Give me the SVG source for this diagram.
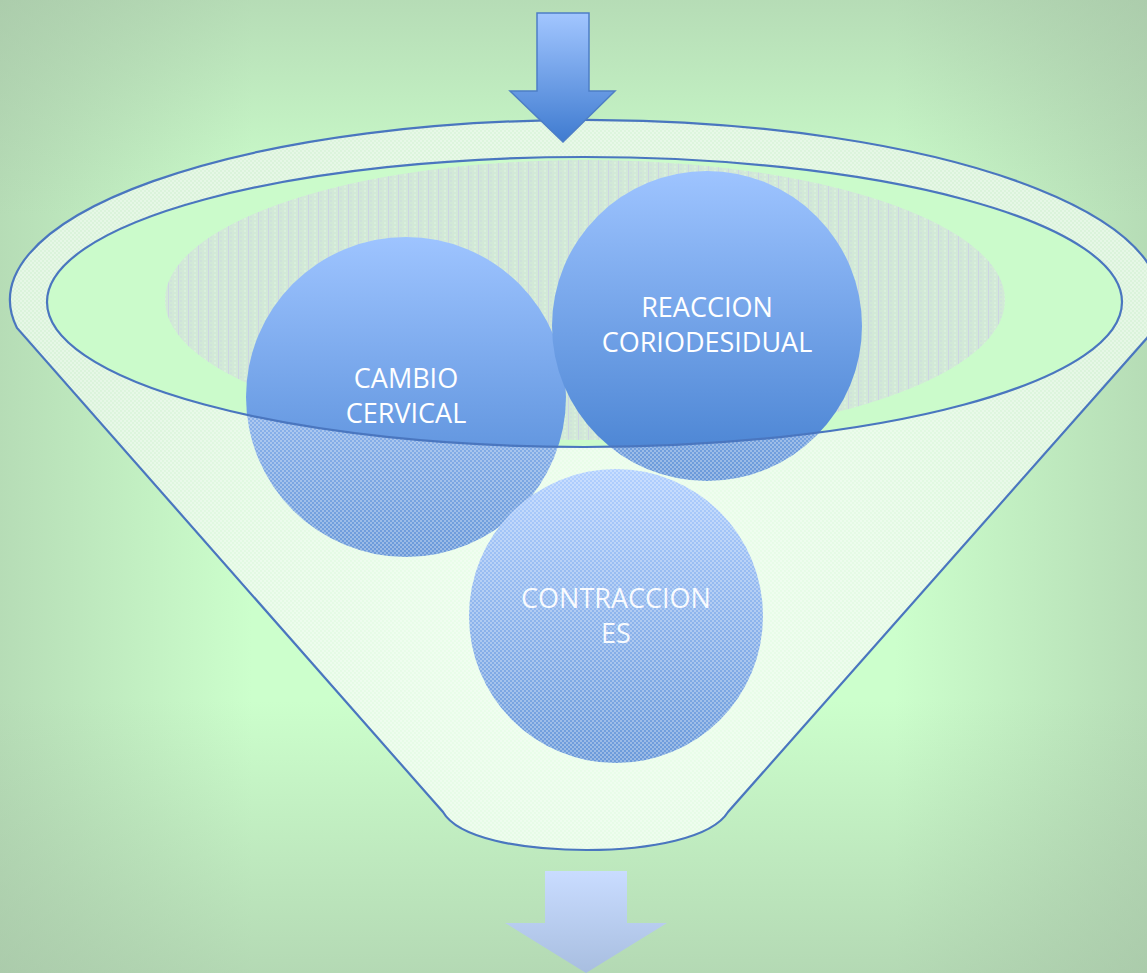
<svg xmlns="http://www.w3.org/2000/svg" width="1147" height="973" viewBox="0 0 1147 973">
  <style>
    .edge { fill: none; stroke: #4a76bf; stroke-width: 2.2; }
    .lbl { font-family: "Open Sans", "Liberation Sans", sans-serif; font-size: 27px; fill: #ffffff; text-anchor: middle; }
  </style>
  <defs>
    <linearGradient id="bgH" gradientUnits="userSpaceOnUse" x1="0" y1="0" x2="1147" y2="0">
      <stop offset="0" stop-color="#a4c0a4" stop-opacity="0.55"/>
      <stop offset="0.22" stop-color="#a4c0a4" stop-opacity="0"/>
      <stop offset="0.78" stop-color="#a4c0a4" stop-opacity="0"/>
      <stop offset="1" stop-color="#a4c0a4" stop-opacity="0.55"/>
    </linearGradient>
    <linearGradient id="bgV" gradientUnits="userSpaceOnUse" x1="0" y1="0" x2="0" y2="973">
      <stop offset="0" stop-color="#a4c0a4" stop-opacity="0.55"/>
      <stop offset="0.22" stop-color="#a4c0a4" stop-opacity="0"/>
      <stop offset="0.72" stop-color="#a4c0a4" stop-opacity="0"/>
      <stop offset="1" stop-color="#a4c0a4" stop-opacity="0.6"/>
    </linearGradient>
    <radialGradient id="funnelG" gradientUnits="userSpaceOnUse" cx="590" cy="620" r="560">
      <stop offset="0" stop-color="#eaffea"/>
      <stop offset="0.6" stop-color="#dcf8dc"/>
      <stop offset="1" stop-color="#d2f0d2"/>
    </radialGradient>
    <linearGradient id="ball" x1="0" y1="0" x2="0" y2="1">
      <stop offset="0" stop-color="#9ec4ff"/>
      <stop offset="1" stop-color="#4580d0"/>
    </linearGradient>
    <linearGradient id="arrTop" x1="0" y1="0" x2="0" y2="1">
      <stop offset="0" stop-color="#a2c6ff"/>
      <stop offset="1" stop-color="#3f7bd0"/>
    </linearGradient>
    <linearGradient id="arrBot" x1="0" y1="0" x2="0" y2="1">
      <stop offset="0" stop-color="#c9dcff"/>
      <stop offset="1" stop-color="#a8bee0"/>
    </linearGradient>
    <pattern id="chk" width="4" height="4" patternUnits="userSpaceOnUse">
      <rect width="4" height="4" fill="#ffffff" fill-opacity="0.2"/>
      <rect x="0" y="0" width="2" height="2" fill="#ffffff" fill-opacity="0.3"/>
      <rect x="2" y="2" width="2" height="2" fill="#ffffff" fill-opacity="0.3"/>
    </pattern>
    <pattern id="hatch" width="10" height="4" patternUnits="userSpaceOnUse">
      <rect width="10" height="4" fill="#d2e9d7"/>
      <rect x="0" y="0" width="2" height="2" fill="#cfe3da"/>
      <rect x="4" y="2" width="2" height="2" fill="#d9efdd"/>
      <rect x="8" y="0" width="1" height="4" fill="#cdd5e3"/>
    </pattern>
  </defs>

  <g id="background">
    <rect x="0" y="0" width="1147" height="973" fill="#ccffcc"/>
    <rect x="0" y="0" width="1147" height="973" fill="url(#bgH)"/>
    <rect x="0" y="0" width="1147" height="973" fill="url(#bgV)"/>
  </g>

  <g id="funnel">
    <path d="M17,328 A575,180 0 1 1 1147,338 L728,812 C712,838 650,850 587,850 C520,850 458,838 443,812 Z" fill="url(#funnelG)"/>
    <ellipse cx="584.5" cy="302" rx="537.5" ry="145" fill="#cbfbcb"/>
    <ellipse id="shaded" cx="585" cy="300" rx="420" ry="140" fill="url(#hatch)"/>
  </g>

  <g id="node-cambio">
    <circle cx="406" cy="397" r="160" fill="url(#ball)"/>
  </g>
  <g id="node-reaccion">
    <circle cx="707" cy="326" r="155" fill="url(#ball)"/>
  </g>
  <g id="node-contracciones">
    <circle cx="616" cy="616" r="147" fill="url(#ball)"/>
  </g>

  <g id="funnel-front">
    <path fill-rule="evenodd" fill="url(#chk)" d="M17,328 A575,180 0 1 1 1147,338 L728,812 C712,838 650,850 587,850 C520,850 458,838 443,812 Z M47,302 A537.5,145 0 1 0 1122,302 A537.5,145 0 1 0 47,302 Z"/>
    <path class="edge" d="M17,328 A575,180 0 1 1 1147,338 L728,812 C712,838 650,850 587,850 C520,850 458,838 443,812 Z"/>
    <ellipse class="edge" cx="584.5" cy="302" rx="537.5" ry="145"/>
  </g>

  <g id="labels">
    <text class="lbl" x="406" y="388">CAMBIO</text>
    <text class="lbl" x="406" y="423">CERVICAL</text>
    <text class="lbl" x="707" y="317">REACCION</text>
    <text class="lbl" x="707" y="352">CORIODESIDUAL</text>
    <text class="lbl" x="616" y="608" fill-opacity="0.95">CONTRACCION</text>
    <text class="lbl" x="616" y="643" fill-opacity="0.95">ES</text>
  </g>

  <g id="connectors">
    <path d="M537,13 L589,13 L589,91 L615,91 L563,142 L510,91 L537,91 Z" fill="url(#arrTop)" stroke="#4d7ec6" stroke-width="1.5"/>
    <path d="M545,871 L627,871 L627,923 L667,923 L586,973 L505,923 L545,923 Z" fill="url(#arrBot)"/>
  </g>
</svg>
